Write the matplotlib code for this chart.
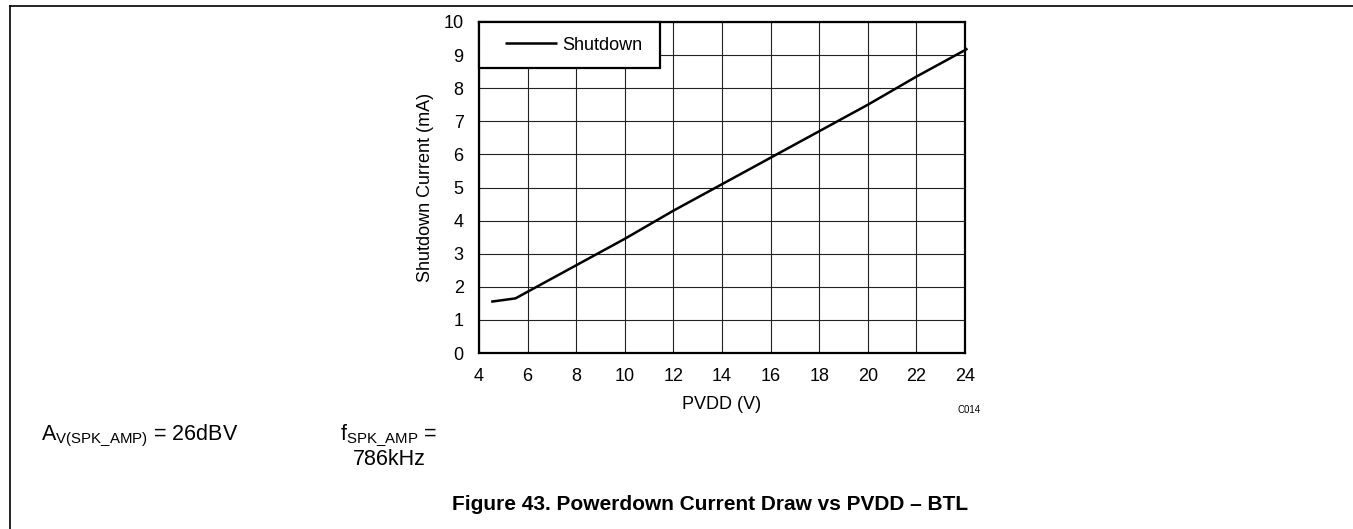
import matplotlib
matplotlib.use("Agg")
import matplotlib.pyplot as plt
from matplotlib.lines import Line2D
from matplotlib.patches import Rectangle

plt.rcParams['font.family'] = ['Liberation Sans', 'DejaVu Sans']
plt.rcParams['mathtext.fontset'] = 'custom'
plt.rcParams['mathtext.rm'] = 'Liberation Sans'

# data
pvdd = [4.5, 5.5, 6, 8, 10, 12, 14, 16, 18, 20, 22, 24, 24.1]
shutdown_ma = [1.55, 1.65, 1.85, 2.65, 3.45, 4.3, 5.1, 5.9, 6.7, 7.5, 8.35, 9.15, 9.2]
xticks = [4, 6, 8, 10, 12, 14, 16, 18, 20, 22, 24]
yticks = [0, 1, 2, 3, 4, 5, 6, 7, 8, 9, 10]

W, H = 1353, 529
FS = 13
fig = plt.figure(figsize=(W / 100, H / 100), dpi=100)
ax = fig.add_axes([479 / W, 1 - 353 / H, (965 - 479) / W, (353 - 22) / H])

ax.plot(pvdd, shutdown_ma, color='black', lw=1.8, label='Shutdown',
        solid_capstyle='butt', clip_on=False, zorder=3)

ax.set_xlim(4, 24)
ax.set_ylim(0, 10)
ax.set_xticks(xticks)
ax.set_yticks(yticks)
ax.grid(True, color='#222222', lw=0.8)
ax.set_axisbelow(True)
ax.tick_params(length=0, labelsize=FS)
ax.tick_params(axis='x', pad=11)
ax.tick_params(axis='y', pad=11)
for s in ax.spines.values():
    s.set_linewidth(1.6)

ax.set_xlabel('PVDD (V)', fontsize=FS, labelpad=8)
ax.set_ylabel('Shutdown Current (mA)', fontsize=FS, labelpad=7)

# legend box in the top-left corner
ax.add_patch(Rectangle((0, 1 - 46 / 331), 181 / 486, 46 / 331, transform=ax.transAxes,
                       facecolor='white', edgecolor='black', lw=1.6, zorder=4,
                       clip_on=False))
leg = ax.legend(loc='center left', bbox_to_anchor=((505 - 479) / 486, 1 - 23 / 331),
                frameon=False, borderaxespad=0, borderpad=0, fontsize=FS,
                handlelength=2.88, handletextpad=0.28)
leg.set_zorder(5)

fig.text(957 / W, 1 - 410 / H, 'C014', fontsize=7, va='center')

# test conditions below the chart
fig.text(41 / W, 1 - 440 / H, r'A$_{\mathregular{V(SPK\_AMP)}}$ = 26dBV',
         fontsize=15.5, va='baseline')
fig.text(389 / W, 1 - 440 / H, r'f$_{\mathregular{SPK\_AMP}}$ =', fontsize=15.5,
         ha='center', va='baseline')
fig.text(389 / W, 1 - 465 / H, '786kHz', fontsize=15.5, ha='center', va='baseline')

fig.text(710 / W, 1 - 504 / H, 'Figure 43. Powerdown Current Draw vs PVDD \u2013 BTL',
         fontsize=15, fontweight='bold', ha='center', va='center')

# page frame lines
fig.add_artist(Line2D([10 / W, 1], [1 - 6 / H, 1 - 6 / H], color='black', lw=1.2))
fig.add_artist(Line2D([10 / W, 10 / W], [0, 1 - 6 / H], color='black', lw=1.2))

fig.savefig('out.png', dpi=100)
